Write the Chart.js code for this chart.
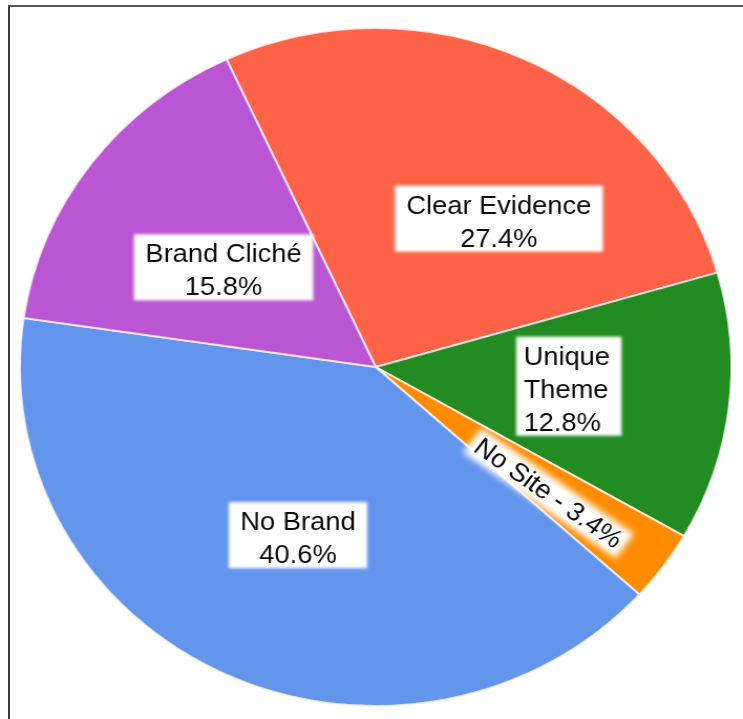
<!DOCTYPE html>
<html>
<head>
<meta charset="utf-8">
<title>Brand signals</title>
<script src="https://cdn.jsdelivr.net/npm/chart.js@4.4.1/dist/chart.umd.min.js"></script>
<style>
  html, body { margin: 0; padding: 0; background: #fff; overflow: hidden; }
  #wrap { position: relative; width: 743px; height: 719px; overflow: hidden; }
  #frame { position: absolute; left: 8px; top: 5px; width: 800px; height: 800px;
           border-left: 2px solid #3c3c3c; border-top: 2px solid #555; box-sizing: border-box; }
  /* the pie is drawn round and widened a little to its oval shape */
  #pie { position: absolute; left: 0; top: 0; transform: scaleX(1.0494); transform-origin: 0 0; }
</style>
</head>
<body>
<div id="wrap">
  <div id="frame"></div>
  <canvas id="pie" width="708" height="719"></canvas>
</div>
<script>
// Share of sites by brand signal, percent
const categories = ['Clear Evidence', 'Unique Theme', 'No Site', 'No Brand', 'Brand Cliché'];
const shares = [27.4, 12.8, 3.4, 40.6, 15.8];
const sliceColors = ['#FF6347', '#228B22', '#FF8C00', '#6495ED', '#BA55D3'];

// Label text, one entry per line
const labelLines = [
  ['Clear Evidence', shares[0] + '%'],
  ['Unique', 'Theme', shares[1] + '%'],
  ['No Site - ' + shares[2] + '%'],
  ['No Brand', shares[3] + '%'],
  ['Brand Cliché', shares[4] + '%']
];
// Where each label sits inside its slice: fraction of the sweep, fraction of the radius
const labelPlacement = [
  { f: 0.64, r: 0.558, align: 'center' },
  { f: 0.48, r: 0.546, align: 'left' },
  { f: 0.62, r: 0.612, align: 'center', rotate: true },
  { f: 0.49, r: 0.542, align: 'center' },
  { f: 0.46, r: 0.519, align: 'center' }
];

const FONT = '26px "Liberation Sans", Arial, Helvetica, sans-serif';
const LINE = 33;
const PAD = 11;

const sliceLabels = {
  id: 'sliceLabels',
  afterDatasetsDraw(chart) {
    const ctx = chart.ctx;
    const meta = chart.getDatasetMeta(0);
    meta.data.forEach((arc, i) => {
      const p = arc.getProps(['x', 'y', 'startAngle', 'endAngle', 'outerRadius'], true);
      const pl = labelPlacement[i];
      const a = p.startAngle + pl.f * (p.endAngle - p.startAngle);
      const cx = p.x + Math.cos(a) * pl.r * p.outerRadius;
      const cy = p.y + Math.sin(a) * pl.r * p.outerRadius;
      const lines = labelLines[i];
      ctx.save();
      ctx.font = FONT;
      if (pl.rotate) {
        const mid = (p.startAngle + p.endAngle) / 2;
        ctx.translate(cx, cy);
        ctx.rotate(mid);
        const w = ctx.measureText(lines[0]).width;
        ctx.save();
        ctx.filter = 'blur(3px)';
        ctx.fillStyle = '#fff';
        ctx.fillRect(-w / 2 - 6, -15, w + 12, 30);
        ctx.restore();
        ctx.fillStyle = '#0a0a0a';
        ctx.textAlign = 'center';
        ctx.textBaseline = 'middle';
        ctx.fillText(lines[0], 0, 1);
      } else {
        const maxW = Math.max(...lines.map(t => ctx.measureText(t).width));
        const padL = pl.align === 'left' ? 7 : PAD;
        const bw = maxW + padL + PAD;
        const bh = LINE * lines.length;
        const left = cx - bw / 2;
        const top = cy - bh / 2;
        ctx.save();
        ctx.filter = 'blur(1.5px)';
        ctx.fillStyle = '#fff';
        ctx.fillRect(left, top, bw, bh);
        ctx.restore();
        ctx.fillStyle = '#0a0a0a';
        ctx.textBaseline = 'alphabetic';
        lines.forEach((t, k) => {
          const y = top + 28 + LINE * k;
          if (pl.align === 'left') {
            ctx.textAlign = 'left';
            ctx.fillText(t, left + padL, y);
          } else {
            ctx.textAlign = 'center';
            ctx.fillText(t, cx, y);
          }
        });
      }
      ctx.restore();
    });
  }
};

new Chart(document.getElementById('pie'), {
  type: 'pie',
  data: {
    labels: categories,
    datasets: [{
      data: shares,
      backgroundColor: sliceColors,
      borderColor: 'rgba(255,245,250,0.8)',
      borderWidth: 2
    }]
  },
  options: {
    responsive: false,
    animation: false,
    events: [],
    rotation: -24.8,
    radius: 339,
    layout: { padding: { left: 19, right: 11, top: 28, bottom: 13 } },
    plugins: {
      legend: { display: false },
      tooltip: { enabled: false },
      title: { display: false }
    }
  },
  plugins: [sliceLabels]
});
</script>
</body>
</html>
